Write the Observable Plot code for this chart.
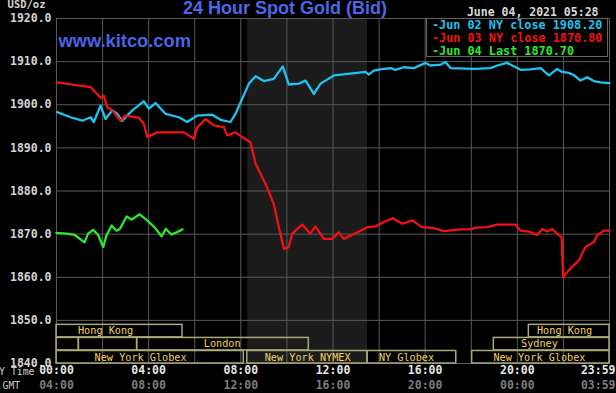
<!DOCTYPE html>
<html>
<head>
<meta charset="utf-8">
<script src="https://cdn.jsdelivr.net/npm/d3@7"></script>
<script src="https://cdn.jsdelivr.net/npm/@observablehq/plot@0.6"></script>
<style>
html, body { margin: 0; padding: 0; background: #000; }
#wrap { position: relative; width: 616px; height: 393px; overflow: hidden; background: #000; }
#legend { position: absolute; left: 426px; top: 18px; width: 182px; height: 39px; background: #000;
  border: 1px solid #646464; font: bold 11.8px "DejaVu Sans Mono", monospace; line-height: 12.9px;
  padding-left: 5px; box-sizing: border-box; white-space: pre; }
</style>
</head>
<body>
<div id="wrap"><div id="legend"></div></div>
<script>
// ---- data (hours in NY time, values in USD/oz) ----
const jun02Hours = [0.03,0.61,1.12,1.48,1.62,1.91,2.13,2.42,2.63,2.85,3.29,3.79,4.01,4.30,4.73,5.31,5.67,6.11,6.76,7.12,7.55,7.77,8.06,8.35,8.64,9.00,9.43,9.82,10.08,10.52,10.81,11.17,11.46,12.04,12.76,13.41,13.55,13.77,14.06,14.50,14.71,15.07,15.51,16.02,16.23,16.67,16.88,17.10,18.11,18.84,19.13,19.56,19.78,20.14,20.57,21.01,21.37,21.73,21.95,22.24,22.45,22.74,23.03,23.32,23.61,24.0];
const jun02Values = [1898.3,1897.1,1896.3,1897.1,1896.0,1899.8,1896.7,1898.7,1897.9,1896.3,1898.7,1900.8,1899.1,1900.4,1897.9,1897.1,1896.0,1897.5,1897.7,1896.5,1896.0,1897.9,1901.4,1904.9,1906.6,1905.5,1906.0,1908.9,1904.7,1904.9,1905.6,1902.5,1904.9,1906.8,1907.2,1907.6,1907.0,1907.9,1908.2,1908.5,1908.1,1908.7,1908.5,1909.7,1909.1,1909.3,1909.9,1908.5,1908.3,1908.5,1909.1,1909.7,1909.1,1908.1,1908.2,1908.5,1906.8,1908.3,1907.6,1907.4,1906.9,1905.6,1906.4,1905.5,1905.2,1905.0];

const jun03Hours = [0.03,1.48,1.69,1.91,2.05,2.20,2.42,2.78,2.99,3.57,3.79,3.94,4.37,4.95,5.53,5.96,6.11,6.47,6.83,7.26,7.41,7.77,8.06,8.42,8.64,9.07,9.43,9.65,9.87,10.08,10.23,10.66,11.02,11.24,11.60,11.97,12.25,12.47,13.05,13.19,13.49,13.85,14.21,14.60,15.00,15.44,15.87,16.38,16.81,17.53,17.97,18.19,18.69,19.13,19.92,20.14,20.50,20.86,21.08,21.30,21.51,21.80,21.92,21.99,22.23,22.67,22.96,23.32,23.47,23.75,24.0];
const jun03Values = [1905.2,1904.1,1902.9,1901.6,1902.1,1899.4,1898.7,1896.3,1897.5,1897.0,1895.6,1892.5,1893.6,1893.6,1893.6,1892.1,1894.8,1896.7,1895.2,1894.8,1892.9,1893.6,1892.5,1891.3,1886.3,1881.7,1877.0,1871.6,1866.6,1867.0,1870.1,1872.2,1870.1,1871.8,1868.9,1868.9,1870.4,1868.9,1870.4,1870.8,1871.6,1871.8,1872.8,1873.7,1872.4,1873.2,1871.6,1871.4,1870.7,1871.1,1871.1,1871.5,1871.6,1872.2,1872.2,1870.8,1870.6,1869.8,1871.2,1870.6,1871.2,1869.8,1869.3,1860.0,1861.6,1863.9,1867.0,1868.1,1869.7,1870.8,1870.8];

const jun04Hours = [0.00,0.43,0.79,1.22,1.37,1.59,1.81,2.03,2.17,2.39,2.60,2.75,3.04,3.26,3.61,3.91,4.27,4.56,4.75,4.99,5.21,5.47];
const jun04Values = [1870.3,1870.1,1869.8,1868.1,1870.1,1871.0,1869.8,1867.0,1869.7,1872.0,1870.8,1871.2,1874.1,1873.4,1874.6,1873.3,1871.5,1869.5,1871.2,1869.9,1870.4,1871.1];

const seriesNames = ["Jun 02", "Jun 03", "Jun 04"];
const legendLabels = ["-Jun 02 NY close 1908.20", "-Jun 03 NY close 1870.80", "-Jun 04 Last 1870.70"];

const yTicks = [1840, 1850, 1860, 1870, 1880, 1890, 1900, 1910, 1920];
const gridHours = [0, 2, 4, 6, 8, 10, 12, 14, 16, 18, 20, 22, 24];
const labelHours = [0, 4, 8, 12, 16, 20, 24];
const nyLabels = ["00:00", "04:00", "08:00", "12:00", "16:00", "20:00", "23:59"];
const gmtLabels = ["04:00", "08:00", "12:00", "16:00", "20:00", "00:00", "03:59"];

const nymexShade = [{start: 8.3, end: 13.5}];

const sessionNames = ["Hong Kong", "", "", "London", "New York Globex", "New York NYMEX", "NY Globex", "New York Globex", "Sydney", "Hong Kong"];
const sessionStarts = [0, 0, 0.97, 3.5, 0, 8.28, 13.5, 18.04, 18.98, 20.5];
const sessionEnds = [5.47, 0.97, 3.5, 10.95, 8.13, 13.5, 17.35, 24, 24, 24];
const sessionRows = [0, 1, 1, 1, 2, 2, 2, 2, 1, 0];
const sessionLabelHours = [2.13, null, null, 7.19, 3.65, 10.9, 15.19, 20.96, 20.96, 22.05];

const titleText = "24 Hour Spot Gold (Bid)";
const siteText = "www.kitco.com";
const unitText = "USD/oz";
const dateText = "June 04, 2021 05:28";

// ---- build tables ----
const seriesColors = ["#1fc3f0", "#f01212", "#2ee82e"];
const allSeries = [[jun02Hours, jun02Values], [jun03Hours, jun03Values], [jun04Hours, jun04Values]];
const lineData = allSeries.flatMap(([hs, vs], k) => hs.map((h, i) => ({h, v: vs[i], name: seriesNames[k]})));

const sessions = sessionNames.map((name, i) => ({
  name, start: sessionStarts[i], end: sessionEnds[i], row: sessionRows[i], labelAt: sessionLabelHours[i]
}));
const rowBottom = r => 1840 + (2 - r) * 3.03;

const mono = '"DejaVu Sans Mono", monospace';
const sans = '"Liberation Sans", Arial, sans-serif';
const gridColor = "#5a5a5a";

const chart = Plot.plot({
  width: 616,
  height: 393,
  marginLeft: 56,
  marginRight: 7,
  marginTop: 18,
  marginBottom: 30,
  style: {background: "#000", color: "#ccc", fontFamily: mono, overflow: "visible"},
  x: {domain: [0, 24], axis: null},
  y: {domain: [1840, 1920], axis: null},
  color: {domain: seriesNames, range: seriesColors},
  marks: [
    Plot.rect(nymexShade, {x1: "start", x2: "end", fill: "#1c1c1c"}),
    Plot.gridX(gridHours, {stroke: gridColor, strokeOpacity: 1}),
    Plot.gridY(yTicks, {stroke: gridColor, strokeOpacity: 1}),
    Plot.frame({stroke: gridColor}),
    Plot.rect(sessions, {
      x1: "start", x2: "end",
      y1: d => rowBottom(d.row), y2: d => rowBottom(d.row) + 2.9,
      fill: "none", stroke: "#a9a97a", strokeWidth: 1.5
    }),
    Plot.text(sessions.filter(d => d.name), {
      x: "labelAt", y: d => rowBottom(d.row) + 1.45, text: "name",
      fill: "#f2d35a", fontSize: 10.2, fontFamily: mono
    }),
    Plot.line(lineData, {x: "h", y: "v", z: "name", stroke: "name", strokeWidth: 2.3}),
    // y tick labels
    Plot.text(yTicks, {
      y: d => d, frameAnchor: "left", dx: -5, textAnchor: "end", text: d => d.toFixed(1),
      fill: "#d4d4d4", fontSize: 11.5, fontWeight: "bold", fontFamily: mono
    }),
    // x tick labels: NY time and GMT
    Plot.text(labelHours.slice(0, -1), {
      x: d => d, frameAnchor: "bottom", dy: 10.5, text: (d, i) => nyLabels[i],
      fill: "#e4e4e4", fontSize: 11.5, fontWeight: "bold", fontFamily: mono
    }),
    Plot.text(labelHours.slice(-1), {
      x: d => d, frameAnchor: "bottom", dy: 10.5, dx: 6, textAnchor: "end", text: () => nyLabels[nyLabels.length - 1],
      fill: "#e4e4e4", fontSize: 11.5, fontWeight: "bold", fontFamily: mono
    }),
    Plot.text(labelHours.slice(0, -1), {
      x: d => d, frameAnchor: "bottom", dy: 25.3, text: (d, i) => gmtLabels[i],
      fill: "#7c7c7c", fontSize: 11.5, fontWeight: "bold", fontFamily: mono
    }),
    Plot.text(labelHours.slice(-1), {
      x: d => d, frameAnchor: "bottom", dy: 25.3, dx: 6, textAnchor: "end", text: () => gmtLabels[gmtLabels.length - 1],
      fill: "#7c7c7c", fontSize: 11.5, fontWeight: "bold", fontFamily: mono
    }),
    Plot.text(["NY Time"], {
      frameAnchor: "bottom-left", dx: -22, dy: 11.5, textAnchor: "end", text: d => d,
      fill: "#d0d0d0", fontSize: 9.8, fontFamily: mono
    }),
    Plot.text(["GMT"], {
      frameAnchor: "bottom-left", dx: -54, dy: 25.3, textAnchor: "start", text: d => d,
      fill: "#c8c8c8", fontSize: 9.8, fontFamily: mono
    }),
    // header texts
    Plot.text([unitText], {
      frameAnchor: "top-left", dx: -11, dy: -11, textAnchor: "end", lineAnchor: "bottom", text: d => d,
      fill: "#d0d0d0", fontSize: 10.5, fontWeight: "bold", fontFamily: mono
    }),
    Plot.text([titleText], {
      frameAnchor: "top", dx: -48, dy: -5, lineAnchor: "bottom", text: d => d,
      fill: "#4d68e6", fontSize: 18, fontWeight: "bold", fontFamily: sans
    }),
    Plot.text([siteText], {
      frameAnchor: "top-left", dx: 2, dy: 28, textAnchor: "start", lineAnchor: "bottom", text: d => d,
      fill: "#4864e8", fontSize: 18.3, fontWeight: "bold", fontFamily: sans
    }),
    Plot.text([dateText], {
      frameAnchor: "top-right", dx: -11, dy: -3, textAnchor: "end", lineAnchor: "bottom", text: d => d,
      fill: "#d8d8d8", fontSize: 11.5, fontWeight: "bold", fontFamily: mono
    })
  ]
});

const wrap = document.getElementById("wrap");
wrap.insertBefore(chart, wrap.firstChild);
chart.style.position = "absolute";
chart.style.left = "0";
chart.style.top = "0";

const legend = document.getElementById("legend");
legendLabels.forEach((t, i) => {
  const div = document.createElement("div");
  div.textContent = t;
  div.style.color = seriesColors[i];
  legend.appendChild(div);
});
</script>
</body>
</html>
